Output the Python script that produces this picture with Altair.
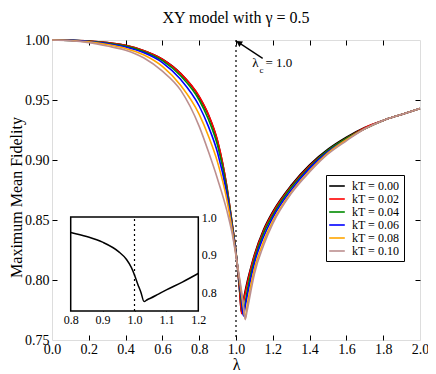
import altair as alt
import pandas as pd

SERIF = "Liberation Serif"

# ---------------- data ----------------
lam = [0.0, 0.1, 0.2, 0.3, 0.4, 0.5, 0.6, 0.7, 0.8, 0.85, 0.9, 0.95, 0.98, 1.0,
       1.02, 1.03, 1.04, 1.05, 1.06, 1.08, 1.1, 1.15, 1.2, 1.3, 1.4, 1.5, 1.6,
       1.7, 1.8, 1.9, 2.0]

F_000 = [1.000, 0.9998, 0.9992, 0.9978, 0.9955, 0.991, 0.984, 0.972, 0.9525, 0.9375, 0.9155, 0.878, 0.846, 0.823,
         0.790, 0.773, 0.783, 0.791, 0.798, 0.810, 0.821, 0.842, 0.857, 0.879, 0.896, 0.909, 0.919,
         0.927, 0.933, 0.938, 0.943]
F_002 = [1.000, 0.9998, 0.9992, 0.9978, 0.9955, 0.991, 0.984, 0.972, 0.953, 0.938, 0.916, 0.878, 0.846, 0.823,
         0.791, 0.772, 0.781, 0.789, 0.796, 0.809, 0.820, 0.841, 0.856, 0.878, 0.895, 0.908, 0.918,
         0.927, 0.933, 0.938, 0.943]
F_004 = [1.000, 0.9997, 0.9990, 0.9974, 0.9950, 0.9903, 0.9828, 0.970, 0.950, 0.934, 0.912, 0.876, 0.845, 0.823,
         0.795, 0.781, 0.771, 0.781, 0.790, 0.805, 0.817, 0.839, 0.854, 0.877, 0.894, 0.908, 0.918,
         0.926, 0.933, 0.938, 0.943]
F_006 = [1.000, 0.9997, 0.9988, 0.9970, 0.9942, 0.9893, 0.9812, 0.967, 0.945, 0.928, 0.906, 0.872, 0.843, 0.822,
         0.797, 0.784, 0.770, 0.778, 0.786, 0.801, 0.814, 0.836, 0.852, 0.875, 0.893, 0.907, 0.917,
         0.926, 0.933, 0.938, 0.943]
F_008 = [1.000, 0.9996, 0.9984, 0.9962, 0.9930, 0.9875, 0.978, 0.962, 0.938, 0.920, 0.898, 0.867, 0.841, 0.821,
         0.799, 0.788, 0.777, 0.768, 0.778, 0.795, 0.809, 0.832, 0.849, 0.873, 0.891, 0.906, 0.917,
         0.926, 0.933, 0.938, 0.943]
F_010 = [1.000, 0.9994, 0.9978, 0.9950, 0.9915, 0.985, 0.974, 0.958, 0.928, 0.907, 0.884, 0.858, 0.838, 0.820,
         0.801, 0.791, 0.780, 0.767, 0.774, 0.790, 0.805, 0.829, 0.847, 0.872, 0.890, 0.905, 0.916,
         0.926, 0.933, 0.938, 0.943]

series_labels = ["kT = 0.00", "kT = 0.02", "kT = 0.04", "kT = 0.06", "kT = 0.08", "kT = 0.10"]
series_values = [F_000, F_002, F_004, F_006, F_008, F_010]
series_colors = ["#000000", "#ff0000", "#008b00", "#0000ff", "#ffa500", "#bc8f8f"]

inset_lam = [0.80, 0.85, 0.90, 0.95, 0.975, 0.99, 1.00, 1.01, 1.02, 1.03, 1.04, 1.05, 1.075, 1.10, 1.15, 1.20]
inset_F = [0.959, 0.948, 0.933, 0.908, 0.887, 0.866, 0.846, 0.822, 0.800, 0.775, 0.780, 0.784, 0.795, 0.806, 0.827, 0.850]

x_ticks = [0.0, 0.2, 0.4, 0.6, 0.8, 1.0, 1.2, 1.4, 1.6, 1.8, 2.0]
y_ticks = [0.75, 0.80, 0.85, 0.90, 0.95, 1.00]
inset_x_ticks = [0.8, 0.9, 1.0, 1.1, 1.2]
inset_y_ticks = [0.8, 0.9, 1.0]
lambda_c = 1.0

rows = []
for lab, vals in zip(series_labels, series_values):
    for l, f in zip(lam, vals):
        rows.append({"lam": l, "F": f, "kT": lab})
df = pd.DataFrame(rows)
df_inset = pd.DataFrame({"lam": inset_lam, "F": inset_F})

W, H = 368, 300

xs = alt.Scale(domain=[0, 2], nice=False, zero=False)
ys = alt.Scale(domain=[0.75, 1.0], nice=False, zero=False)

def tick_axis(orient, offset, values, size=5):
    return alt.Axis(orient=orient, offset=offset, values=values, labels=False, domain=False,
                    grid=False, ticks=True, tickSize=size, tickColor="black", tickWidth=1, title=None)

# ---------------- main panel ----------------
curves = alt.Chart(df).mark_line(strokeWidth=1.6, interpolate="monotone").encode(
    x=alt.X("lam:Q", scale=xs, axis=alt.Axis(
        orient="bottom", values=x_ticks, format=".1f", ticks=False, tickSize=0, domain=False, grid=False,
        labelFont=SERIF, labelFontSize=14, labelColor="black", labelPadding=2, labelFlush=False,
        labelOverlap=False, title="λ", titleFont=SERIF, titleFontSize=16, titleFontWeight="normal",
        titleColor="black", titleY=24, titleBaseline="middle")),
    y=alt.Y("F:Q", scale=ys, axis=alt.Axis(
        orient="left", values=y_ticks, format=".2f", ticks=False, tickSize=0, domain=False, grid=False,
        labelFont=SERIF, labelFontSize=14, labelColor="black", labelPadding=3, labelFlush=False,
        labelOverlap=False, title="Maximum Mean Fidelity", titleFont=SERIF, titleFontSize=16,
        titleFontWeight="normal", titleColor="black", titleX=-36, titleY=157, titleAngle=270,
        titleBaseline="middle", titleAlign="center")),
    color=alt.Color("kT:N", scale=alt.Scale(domain=series_labels, range=series_colors),
                    legend=alt.Legend(orient="none", legendX=274, legendY=135, title=None,
                                      symbolType="M-1.3,0H1.3", symbolStrokeWidth=1.6, symbolSize=144,
                                      labelFont=SERIF, labelFontSize=12, labelColor="black",
                                      strokeColor="black", fillColor="white", padding=4,
                                      rowPadding=0, labelOffset=8, labelLimit=200)),
)

tk1 = alt.Chart(df).mark_point(opacity=0).encode(
    x=alt.X("lam:Q", scale=xs, axis=tick_axis("top", -H, x_ticks[1:-1])),
    y=alt.Y("F:Q", scale=ys, axis=tick_axis("right", -W, y_ticks[1:-1])),
)
tk2 = alt.Chart(df).mark_point(opacity=0).encode(
    x=alt.X("lam:Q", scale=xs, axis=tick_axis("bottom", -H, x_ticks[1:-1])),
    y=alt.Y("F:Q", scale=ys, axis=tick_axis("left", -W, y_ticks[1:-1])),
)

crit = alt.Chart(pd.DataFrame({"lam": [lambda_c]})).mark_rule(
    color="black", strokeDash=[2, 3], strokeWidth=1.2).encode(
    x=alt.X("lam:Q", scale=xs, axis=None))

arrow_df = pd.DataFrame({"x0": [1.145], "y0": [0.9847], "x1": [1.015], "y1": [0.9978]})
arrow = alt.Chart(arrow_df).mark_rule(color="black", strokeWidth=1.3).encode(
    x=alt.X("x0:Q", scale=xs, axis=None), y=alt.Y("y0:Q", scale=ys, axis=None),
    x2="x1:Q", y2="y1:Q")
head = alt.Chart(arrow_df).mark_point(shape="triangle-up", angle=303, filled=True, size=45,
                                      color="black", opacity=1).encode(
    x=alt.X("x1:Q", scale=xs, axis=None), y=alt.Y("y1:Q", scale=ys, axis=None))

ann_df = pd.DataFrame({"x": [1.105], "y": [0.9806], "xs": [1.139], "ys": [0.9746], "xe": [1.16]})
t_lam = alt.Chart(ann_df).mark_text(text="λ", font=SERIF, fontSize=13, color="black",
                                     baseline="middle", align="center").encode(
    x=alt.X("x:Q", scale=xs, axis=None), y=alt.Y("y:Q", scale=ys, axis=None))
t_sub = alt.Chart(ann_df).mark_text(text="c", font=SERIF, fontSize=9, color="black",
                                     baseline="middle", align="center").encode(
    x=alt.X("xs:Q", scale=xs, axis=None), y=alt.Y("ys:Q", scale=ys, axis=None))
t_eq = alt.Chart(ann_df).mark_text(text="= 1.0", font=SERIF, fontSize=13, color="black",
                                    baseline="middle", align="left").encode(
    x=alt.X("xe:Q", scale=xs, axis=None), y=alt.Y("y:Q", scale=ys, axis=None))

main = alt.layer(crit, curves, tk1, tk2, arrow, head, t_lam, t_sub, t_eq).resolve_axis(
    x="independent", y="independent")

# ---------------- inset ----------------
XI0, XI1 = 18.7, 146.3
YI0, YI1 = 271, 177
xi = alt.Scale(domain=[0.8, 1.2], range=[XI0, XI1], nice=False, zero=False)
yi = alt.Scale(domain=[0.75, 1.0], range=[YI0, YI1], nice=False, zero=False)

box_df = pd.DataFrame({"x0": [inset_x_ticks[0]], "x1": [inset_x_ticks[-1]], "y0": [0.75], "y1": [1.0]})
box = alt.Chart(box_df).mark_rect(fill="white", stroke="black", strokeWidth=1.5).encode(
    x=alt.X("x0:Q", scale=xi, axis=alt.Axis(
        orient="bottom", offset=YI0 - H, values=inset_x_ticks, format=".1f", ticks=False, tickSize=0,
        domain=False, grid=False, labelFont=SERIF, labelFontSize=12, labelColor="black",
        labelPadding=3, labelFlush=False, labelOverlap=False, title=None)),
    x2="x1:Q",
    y=alt.Y("y0:Q", scale=yi, axis=alt.Axis(
        orient="right", offset=XI1 - W, values=inset_y_ticks, format=".1f", ticks=False, tickSize=0,
        domain=False, grid=False, labelFont=SERIF, labelFontSize=12, labelColor="black",
        labelPadding=3, labelFlush=False, labelOverlap=False, title=None)),
    y2="y1:Q",
)

inset_line = alt.Chart(df_inset).mark_line(color="black", strokeWidth=1.5, interpolate="monotone").encode(
    x=alt.X("lam:Q", scale=xi, axis=tick_axis("top", -YI0, inset_x_ticks[1:-1], 4)),
    y=alt.Y("F:Q", scale=yi, axis=tick_axis("left", -XI1, inset_y_ticks[:-1], 4)),
)

inset_rule_df = pd.DataFrame({"x": [lambda_c], "y0": [0.75], "y1": [1.0]})
inset_rule = alt.Chart(inset_rule_df).mark_rule(color="black", strokeDash=[2, 3], strokeWidth=1.2).encode(
    x=alt.X("x:Q", scale=xi, axis=tick_axis("bottom", YI1 - H, inset_x_ticks[1:-1], 4)),
    y=alt.Y("y0:Q", scale=yi, axis=None),
    y2="y1:Q",
)

inset = alt.layer(box, inset_rule, inset_line).resolve_axis(x="independent", y="independent")

chart = alt.layer(main, inset).resolve_scale(x="independent", y="independent").properties(
    width=W, height=H,
    title=alt.TitleParams("XY model with  γ = 0.5", font=SERIF, fontSize=16, fontWeight="normal",
                          color="black", anchor="middle", frame="group", offset=7),
    autosize="none",
    padding={"left": 44, "top": 32, "right": 8, "bottom": 34},
).configure_view(stroke="black", strokeWidth=1).configure(background="white")

chart.save("out.html", embed_options={"renderer": "svg", "actions": False})
